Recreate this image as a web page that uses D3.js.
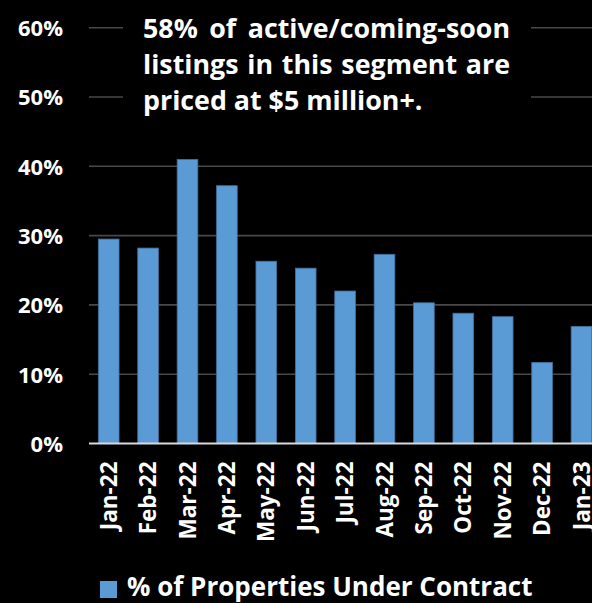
<!DOCTYPE html>
<html><head><meta charset="utf-8">
<script src="https://cdn.jsdelivr.net/npm/d3@7"></script>
<style>body{margin:0;background:#000}svg{display:block}</style>
</head><body>
<script>
const months = ["Jan-22","Feb-22","Mar-22","Apr-22","May-22","Jun-22","Jul-22","Aug-22","Sep-22","Oct-22","Nov-22","Dec-22","Jan-23"];
const underContract = [0.295,0.282,0.410,0.372,0.263,0.253,0.220,0.273,0.203,0.188,0.183,0.117,0.169];
const yTicks = [0,0.1,0.2,0.3,0.4,0.5,0.6];
const seriesName = "% of Properties Under Contract";
const noteLines = ["58% of active/coming-soon","listings in this segment are","priced at $5 million+."];

const W = 592, H = 603;
const FONT = "'Open Sans', Lato, sans-serif";
const svg = d3.select("body").append("svg").attr("width", W).attr("height", H)
  .style("background", "#000").attr("font-family", FONT);

const y = d3.scaleLinear().domain([0, 0.6]).range([443.5, 27.7]);
const x = d3.scaleBand().domain(months).range([89, 601.2]).paddingInner(0.475).paddingOuter(0.2375);

// gridlines
svg.append("g").selectAll("line").data(yTicks.filter(d => d > 0)).join("line")
  .attr("x1", 89).attr("x2", W).attr("y1", d => y(d)).attr("y2", d => y(d))
  .attr("stroke", "#484848").attr("stroke-width", 1.6);

// y axis labels
const yAxis = d3.axisLeft(y).tickValues(yTicks).tickFormat(d3.format(".0%")).tickSize(0).tickPadding(0);
const yg = svg.append("g").attr("transform", "translate(63,0)").call(yAxis);
yg.select(".domain").remove();
yg.selectAll("text").attr("fill", "#fff").attr("font-size", 22).attr("font-weight", "bold")
  .attr("font-family", FONT).attr("dy", "0.36em");

// bars
svg.append("g").selectAll("rect").data(months).join("rect")
  .attr("x", d => x(d)).attr("width", x.bandwidth())
  .attr("y", (d, i) => y(underContract[i])).attr("height", (d, i) => y(0) - y(underContract[i]))
  .attr("fill", "#5b9bd5").attr("stroke", "#41719c").attr("stroke-width", 0.8);

// baseline
svg.append("line").attr("x1", 89).attr("x2", W).attr("y1", y(0)).attr("y2", y(0))
  .attr("stroke", "#d9d9d9").attr("stroke-width", 2);

// x axis labels
const xAxis = d3.axisBottom(x).tickSize(0).tickPadding(0);
const xg = svg.append("g").attr("transform", `translate(0,${y(0)})`).call(xAxis);
xg.select(".domain").remove();
xg.selectAll("text").attr("fill", "#fff").attr("font-size", 22.5).attr("font-weight", "bold")
  .attr("font-family", FONT)
  .attr("text-anchor", "end").attr("transform", "rotate(-90)")
  .attr("x", -18).attr("y", 0).attr("dy", "0.36em");

// annotation box
svg.append("rect").attr("x", 123).attr("y", 0).attr("width", 408).attr("height", 132).attr("fill", "#000");
const noteX0 = 143, noteX1 = 510, baselines = [38, 74, 110];
noteLines.forEach((line, li) => {
  const words = line.split(" ");
  if (li < noteLines.length - 1) {
    const ts = words.map(w => svg.append("text").text(w).attr("fill", "#fff").attr("font-size", 26.8)
      .attr("font-weight", "bold").attr("y", baselines[li]));
    const widths = ts.map(t => t.node().getComputedTextLength());
    const gap = (noteX1 - noteX0 - d3.sum(widths)) / (words.length - 1);
    let cx = noteX0;
    ts.forEach((t, i) => { t.attr("x", cx); cx += widths[i] + gap; });
  } else {
    svg.append("text").text(line).attr("fill", "#fff").attr("font-size", 26.8)
      .attr("font-weight", "bold").attr("x", noteX0).attr("y", baselines[li]);
  }
});

// legend
svg.append("rect").attr("x", 100).attr("y", 581).attr("width", 17).attr("height", 17).attr("fill", "#5b9bd5");
svg.append("text").text(seriesName).attr("x", 127).attr("y", 596.3).attr("fill", "#fff")
  .attr("font-size", 26).attr("font-weight", "bold");
</script>
</body></html>
